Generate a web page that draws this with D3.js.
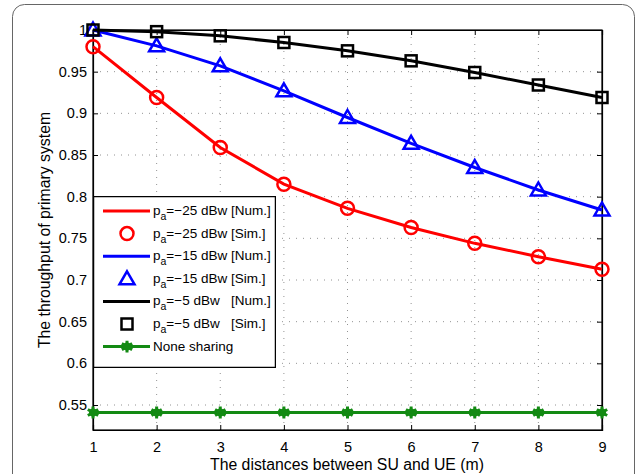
<!DOCTYPE html>
<html>
<head>
<meta charset="utf-8">
<script src="https://cdn.jsdelivr.net/npm/d3@7"></script>
<style>
  body { margin: 0; background: #fff; }
  svg { font-family: "Liberation Sans", Arial, sans-serif; }
</style>
</head>
<body>
<div id="chart"></div>
<script>
// distances between SU and UE
var distances = [1, 2, 3, 4, 5, 6, 7, 8, 9];

// throughput
var numRed   = [0.980, 0.919, 0.859, 0.815, 0.786, 0.763, 0.744, 0.728, 0.713];
var simRed   = [0.980, 0.919, 0.859, 0.815, 0.786, 0.763, 0.744, 0.728, 0.713];
var numBlue  = [1.000, 0.981, 0.957, 0.927, 0.895, 0.864, 0.835, 0.808, 0.784];
var simBlue  = [1.000, 0.981, 0.957, 0.927, 0.895, 0.864, 0.835, 0.808, 0.784];
var numBlack = [1.000, 0.998, 0.993, 0.985, 0.975, 0.963, 0.949, 0.934, 0.919];
var simBlack = [1.000, 0.998, 0.993, 0.985, 0.975, 0.963, 0.949, 0.934, 0.919];
var noneSharing = [0.541, 0.541, 0.541, 0.541, 0.541, 0.541, 0.541, 0.541, 0.541];

var yTicks = [0.55, 0.6, 0.65, 0.7, 0.75, 0.8, 0.85, 0.9, 0.95, 1];
var yTickLabels = ["0.55", "0.6", "0.65", "0.7", "0.75", "0.8", "0.85", "0.9", "0.95", "1"];

var legendItems = [
    {sub: "=\u221225 dBw [Num.]", color: "red",   line: true,  marker: null},
    {sub: "=\u221225 dBw [Sim.]", color: "red",   line: false, marker: "circle"},
    {sub: "=\u221215 dBw [Num.]", color: "blue",  line: true,  marker: null},
    {sub: "=\u221215 dBw [Sim.]", color: "blue",  line: false, marker: "triangle"},
    {sub: "=\u22125 dBw   [Num.]", color: "black", line: true,  marker: null},
    {sub: "=\u22125 dBw   [Sim.]", color: "black", line: false, marker: "square"},
    {text: "None sharing",        color: "#138a13", line: true, marker: "star"}
];

var W = 637, H = 474;
var margin = {top: 30, right: 35, bottom: 44, left: 93};
var plotW = 602 - margin.left;
var plotH = 430 - margin.top;

var svg = d3.select("#chart").append("svg")
    .attr("width", W)
    .attr("height", H);

// figure frame
svg.append("rect")
    .attr("x", 12.5).attr("y", 4.5)
    .attr("width", 622).attr("height", 490)
    .attr("rx", 12).attr("ry", 12)
    .attr("fill", "none")
    .attr("stroke", "#666")
    .attr("stroke-width", 1);

var g = svg.append("g")
    .attr("transform", "translate(" + margin.left + "," + margin.top + ")");

var x = d3.scaleLinear().domain([1, 9]).range([0, plotW]);
var y = d3.scaleLinear().domain([0.52, 1]).range([plotH, 0]);

// grid
g.selectAll(".gx").data(distances.slice(1, -1)).enter().append("line")
    .attr("x1", function(d) { return x(d); }).attr("x2", function(d) { return x(d); })
    .attr("y1", 0).attr("y2", plotH)
    .attr("stroke", "#777").attr("stroke-width", 0.8)
    .attr("stroke-dasharray", "1,6");
g.selectAll(".gy").data(yTicks.slice(0, -1)).enter().append("line")
    .attr("x1", 0).attr("x2", plotW)
    .attr("y1", function(d) { return y(d); }).attr("y2", function(d) { return y(d); })
    .attr("stroke", "#777").attr("stroke-width", 0.8)
    .attr("stroke-dasharray", "1,6");

// axes, ticks inside
var xAxis = d3.axisBottom(x).tickValues(distances).tickSize(-5).tickPadding(12)
    .tickFormat(d3.format("d"));
var yAxis = d3.axisLeft(y).tickValues(yTicks).tickSize(-5).tickPadding(6)
    .tickFormat(function(d, i) { return yTickLabels[i]; });

g.append("g").attr("transform", "translate(0," + plotH + ")").call(xAxis);
g.append("g").call(yAxis);
g.append("g").call(d3.axisTop(x).tickValues(distances).tickSize(-5).tickFormat(""));
g.append("g").attr("transform", "translate(" + plotW + ",0)")
    .call(d3.axisRight(y).tickValues(yTicks).tickSize(-5).tickFormat(""));

g.selectAll(".domain").attr("stroke", "#000").attr("stroke-width", 1.2);
g.selectAll(".tick text").attr("font-size", 14.5).attr("fill", "#000")
    .attr("font-family", "Liberation Sans, Arial, sans-serif");
g.selectAll(".tick line").attr("stroke", "#000");

// axis box
g.append("rect").attr("width", plotW).attr("height", plotH)
    .attr("fill", "none").attr("stroke", "#000").attr("stroke-width", 1.2);

// lines
var line = d3.line()
    .x(function(d, i) { return x(distances[i]); })
    .y(function(d) { return y(d); });

function drawLine(vals, color) {
    g.append("path").datum(vals)
        .attr("d", line)
        .attr("fill", "none")
        .attr("stroke", color)
        .attr("stroke-width", 3);
}

function drawMarker(sel, type, color) {
    if (type === "circle") {
        sel.append("circle").attr("r", 6.5)
            .attr("fill", "none").attr("stroke", color).attr("stroke-width", 2.5);
    } else if (type === "triangle") {
        sel.append("path").attr("d", "M0,-7.5L7.5,5.5L-7.5,5.5Z")
            .attr("fill", "none").attr("stroke", color).attr("stroke-width", 2.5);
    } else if (type === "square") {
        sel.append("rect").attr("x", -5.5).attr("y", -5.5).attr("width", 11).attr("height", 11)
            .attr("fill", "none").attr("stroke", color).attr("stroke-width", 2.5);
    } else if (type === "star") {
        sel.append("path").attr("d", d3.symbol().type(d3.symbolAsterisk).size(100))
            .attr("fill", "none").attr("stroke", color).attr("stroke-width", 3);
        sel.append("circle").attr("r", 4).attr("fill", color);
    }
}

function drawMarkers(vals, type, color) {
    g.selectAll(null).data(vals).enter().append("g")
        .attr("transform", function(d, i) { return "translate(" + x(distances[i]) + "," + y(d) + ")"; })
        .each(function() { drawMarker(d3.select(this), type, color); });
}

drawLine(numRed, "red");
drawMarkers(simRed, "circle", "red");
drawLine(numBlue, "blue");
drawMarkers(simBlue, "triangle", "blue");
drawLine(numBlack, "black");
drawMarkers(simBlack, "square", "black");
drawLine(noneSharing, "#138a13");
drawMarkers(noneSharing, "star", "#138a13");

// axis labels
svg.append("text")
    .attr("x", 347).attr("y", 470)
    .attr("text-anchor", "middle")
    .attr("font-size", 15.8)
    .text("The distances between SU and UE (m)");

svg.append("text")
    .attr("transform", "translate(50," + (margin.top + plotH / 2) + ")rotate(-90)")
    .attr("text-anchor", "middle")
    .attr("font-size", 15.8)
    .text("The throughput of primary system");

// legend
var legX = 93, legY = 196, legW = 183, legH = 172, rowH = 22.6;
svg.append("clipPath").attr("id", "legclip")
    .append("rect").attr("x", legX).attr("y", legY).attr("width", legW).attr("height", legH);

var leg = svg.append("g").attr("clip-path", "url(#legclip)");
leg.append("rect")
    .attr("x", legX).attr("y", legY).attr("width", legW).attr("height", legH)
    .attr("fill", "#fff");

legendItems.forEach(function(it, i) {
    var cy = legY + 15 + i * rowH;
    if (it.line) {
        leg.append("line").attr("x1", legX + 10).attr("x2", legX + 57)
            .attr("y1", cy).attr("y2", cy)
            .attr("stroke", it.color).attr("stroke-width", 3);
    }
    if (it.marker) {
        var mg = leg.append("g").attr("transform", "translate(" + (legX + 34) + "," + cy + ")");
        drawMarker(mg, it.marker, it.color);
    }
    var t = leg.append("text")
        .attr("x", legX + 60).attr("y", cy + 4)
        .attr("font-size", 13.5)
        .attr("xml:space", "preserve")
        .style("white-space", "pre");
    if (it.text) {
        t.text(it.text);
    } else {
        t.append("tspan").text("p");
        t.append("tspan").attr("dy", 5).attr("font-size", 10.5).text("a");
        t.append("tspan").attr("dy", -5).text(it.sub);
    }
});

leg.append("rect")
    .attr("x", legX + 0.5).attr("y", legY + 0.5).attr("width", legW - 1).attr("height", legH - 1)
    .attr("fill", "none").attr("stroke", "#000").attr("stroke-width", 1.5);
</script>
</body>
</html>
